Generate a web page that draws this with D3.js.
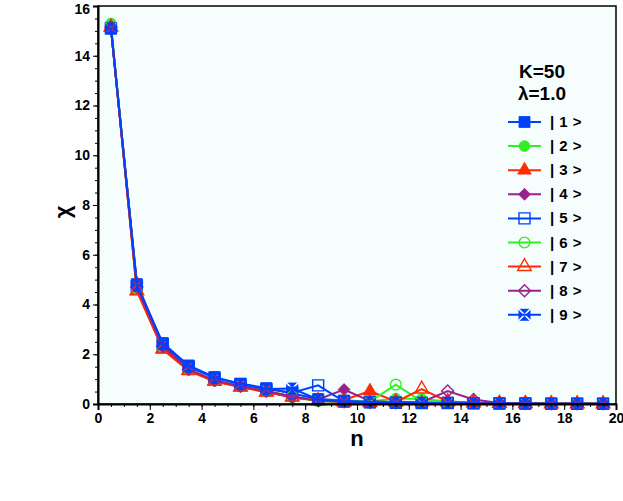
<!DOCTYPE html>
<html><head><meta charset="utf-8">
<script src="https://cdn.jsdelivr.net/npm/d3@7"></script>
<style>
body{margin:0;background:#fff}
svg{display:block}
text{font-family:"Liberation Sans",Arial,Helvetica,sans-serif;font-weight:bold;fill:#000}
</style></head><body>
<svg id="c" width="623" height="501"></svg>
<script>
const nValues = [0.5,1.5,2.5,3.5,4.5,5.5,6.5,7.5,8.5,9.5,10.5,11.5,12.5,13.5,14.5,15.5,16.5,17.5,18.5,19.5];
const s1 = [15.10,4.82,2.45,1.55,1.08,0.82,0.64,0.42,0.20,0.14,0.10,0.07,0.06,0.05,0.04,0.03,0.02,0.02,0.01,0.01];
const s2 = [15.30,4.62,2.28,1.38,0.94,0.70,0.50,0.26,0.12,0.08,0.10,0.22,0.20,0.10,0.06,0.04,0.03,0.02,0.01,0.01];
const s3 = [15.15,4.55,2.20,1.33,0.90,0.68,0.48,0.28,0.14,0.16,0.52,0.10,0.06,0.05,0.04,0.03,0.02,0.01,0.01,0.01];
const s4 = [15.15,4.88,2.30,1.38,0.93,0.70,0.50,0.25,0.18,0.58,0.12,0.07,0.05,0.04,0.03,0.02,0.02,0.01,0.01,0.01];
const s5 = [15.10,4.75,2.40,1.50,1.05,0.80,0.60,0.45,0.75,0.10,0.07,0.05,0.04,0.04,0.03,0.02,0.02,0.01,0.01,0.01];
const s6 = [15.20,4.65,2.30,1.40,0.95,0.72,0.52,0.30,0.12,0.08,0.10,0.78,0.10,0.05,0.04,0.03,0.02,0.01,0.01,0.01];
const s7 = [15.15,4.55,2.22,1.35,0.92,0.68,0.48,0.28,0.13,0.08,0.06,0.08,0.60,0.10,0.05,0.03,0.02,0.01,0.01,0.01];
const s8 = [15.15,4.70,2.32,1.40,0.95,0.72,0.52,0.30,0.14,0.09,0.06,0.05,0.07,0.52,0.18,0.04,0.02,0.01,0.01,0.01];
const s9 = [15.10,4.78,2.42,1.52,1.06,0.80,0.60,0.62,0.18,0.10,0.07,0.05,0.04,0.04,0.03,0.02,0.02,0.01,0.01,0.01];
const seriesNames = ["| 1 >","| 2 >","| 3 >","| 4 >","| 5 >","| 6 >","| 7 >","| 8 >","| 9 >"];
const seriesValues = [s1,s2,s3,s4,s5,s6,s7,s8,s9];
const xTicks = [0,2,4,6,8,10,12,14,16,18,20];
const yTicks = [0,2,4,6,8,10,12,14,16];
const legendTitle = ["K=50","\u03bb=1.0"];

const colors = ["#0040ff","#33ee22","#ff2a00","#992288","#0040ff","#33ee22","#ff2a00","#992288","#0040ff"];
const shapes = ["square","circle","triangle","diamond","square","circle","triangle","diamond","xsquare"];
const filled = [true,true,true,true,false,false,false,false,true];

const svg = d3.select("#c");
const x = d3.scaleLinear().domain([0,20]).range([98,616]);
const y = d3.scaleLinear().domain([0,16]).range([404,6]);

const defs = svg.append("defs");
const mask = defs.append("mask").attr("id","xmask").attr("maskUnits","userSpaceOnUse")
  .attr("x",-10).attr("y",-10).attr("width",20).attr("height",20);
mask.append("rect").attr("x",-10).attr("y",-10).attr("width",20).attr("height",20).attr("fill","#fff");
mask.append("path").attr("d","M-7,-7L7,7M-7,7L7,-7").attr("stroke","#000").attr("stroke-width",1.6);

svg.append("rect").attr("x",x(0)).attr("y",y(16)).attr("width",x(20)-x(0)).attr("height",y(0)-y(16))
  .attr("fill","#f5fdfd");

function symPath(shape){
  if(shape==="square") return d3.symbol(d3.symbolSquare,121)();
  if(shape==="circle") return d3.symbol(d3.symbolCircle,90)();
  if(shape==="triangle") return d3.symbol(d3.symbolTriangle,80)();
  if(shape==="diamond") return "M0,-6L6,0L0,6L-6,0Z";
  return null;
}
function drawMarker(g, i){
  const c = colors[i];
  if(shapes[i]==="xsquare"){
    g.append("rect").attr("x",-6).attr("y",-6).attr("width",12).attr("height",12)
      .attr("fill",c).attr("mask","url(#xmask)");
    return;
  }
  const p = g.append("path").attr("d",symPath(shapes[i]));
  if(filled[i]) p.attr("fill",c).attr("stroke",c).attr("stroke-width",0.8);
  else p.attr("fill","none").attr("stroke",c).attr("stroke-width",1.4);
}

const line = d3.line().x(d=>x(d[0])).y(d=>y(d[1]));
seriesValues.forEach((vals,i)=>{
  const pts = nValues.map((n,k)=>[n,vals[k]]);
  svg.append("path").attr("d",line(pts)).attr("fill","none")
    .attr("stroke",colors[i]).attr("stroke-width",2);
  pts.forEach(p=>{
    const g = svg.append("g").attr("transform",`translate(${x(p[0])},${y(p[1])})`);
    drawMarker(g,i);
  });
});

svg.append("rect").attr("x",x(0)).attr("y",y(16)).attr("width",x(20)-x(0)).attr("height",y(0)-y(16))
  .attr("fill","none").attr("stroke","#000").attr("stroke-width",1.5);

const xMinor = d3.range(0,20.01,0.5);
const yMinor = d3.range(0,16.01,0.5);
const xAxis = svg.append("g").attr("transform",`translate(0,${y(0)})`);
xAxis.call(d3.axisBottom(x).tickValues(xMinor).tickSize(3).tickFormat(""));
xAxis.call(g=>g.select(".domain").remove());
const xAxisM = svg.append("g").attr("transform",`translate(0,${y(0)})`);
xAxisM.call(d3.axisBottom(x).tickValues(xTicks).tickSize(6).tickPadding(3).tickFormat(d3.format("d")));
xAxisM.select(".domain").attr("stroke-width",2);
xAxisM.selectAll("text").attr("font-size",14).attr("font-family","Liberation Sans, Arial, sans-serif").attr("font-weight","bold").attr("fill","#000");
const yAxis = svg.append("g").attr("transform",`translate(${x(0)},0)`);
yAxis.call(d3.axisLeft(y).tickValues(yMinor).tickSize(3).tickFormat(""));
yAxis.call(g=>g.select(".domain").remove());
const yAxisM = svg.append("g").attr("transform",`translate(${x(0)},0)`);
yAxisM.call(d3.axisLeft(y).tickValues(yTicks).tickSize(5).tickPadding(3).tickFormat(d3.format("d")));
yAxisM.select(".domain").attr("stroke-width",2);
yAxisM.selectAll("text").attr("font-size",14).attr("font-family","Liberation Sans, Arial, sans-serif").attr("font-weight","bold").attr("fill","#000");
yAxisM.selectAll(".tick").filter(d=>d===16).select("text").attr("dy","0.5em");
svg.selectAll(".tick line").attr("stroke","#000").attr("stroke-width",1);

svg.append("text").attr("x",357).attr("y",446).attr("text-anchor","middle").attr("font-size",22).text("n");
svg.append("text").attr("transform","translate(70,212) rotate(-90)").attr("text-anchor","middle").attr("font-size",22).text("\u03c7");

svg.append("text").attr("x",542).attr("y",78).attr("text-anchor","middle").attr("font-size",19).text(legendTitle[0]);
svg.append("text").attr("x",542).attr("y",100).attr("text-anchor","middle").attr("font-size",19).text(legendTitle[1]);
seriesNames.forEach((name,i)=>{
  const cy = 122 + i*24.1;
  svg.append("line").attr("x1",508).attr("x2",541).attr("y1",cy).attr("y2",cy)
    .attr("stroke",colors[i]).attr("stroke-width",2);
  const g = svg.append("g").attr("transform",`translate(524.5,${cy})`);
  drawMarker(g,i);
  svg.append("text").attr("x",550).attr("y",cy+5).attr("font-size",15).attr("letter-spacing",0.5)
    .attr("xml:space","preserve").text(name);
});
</script></body></html>
